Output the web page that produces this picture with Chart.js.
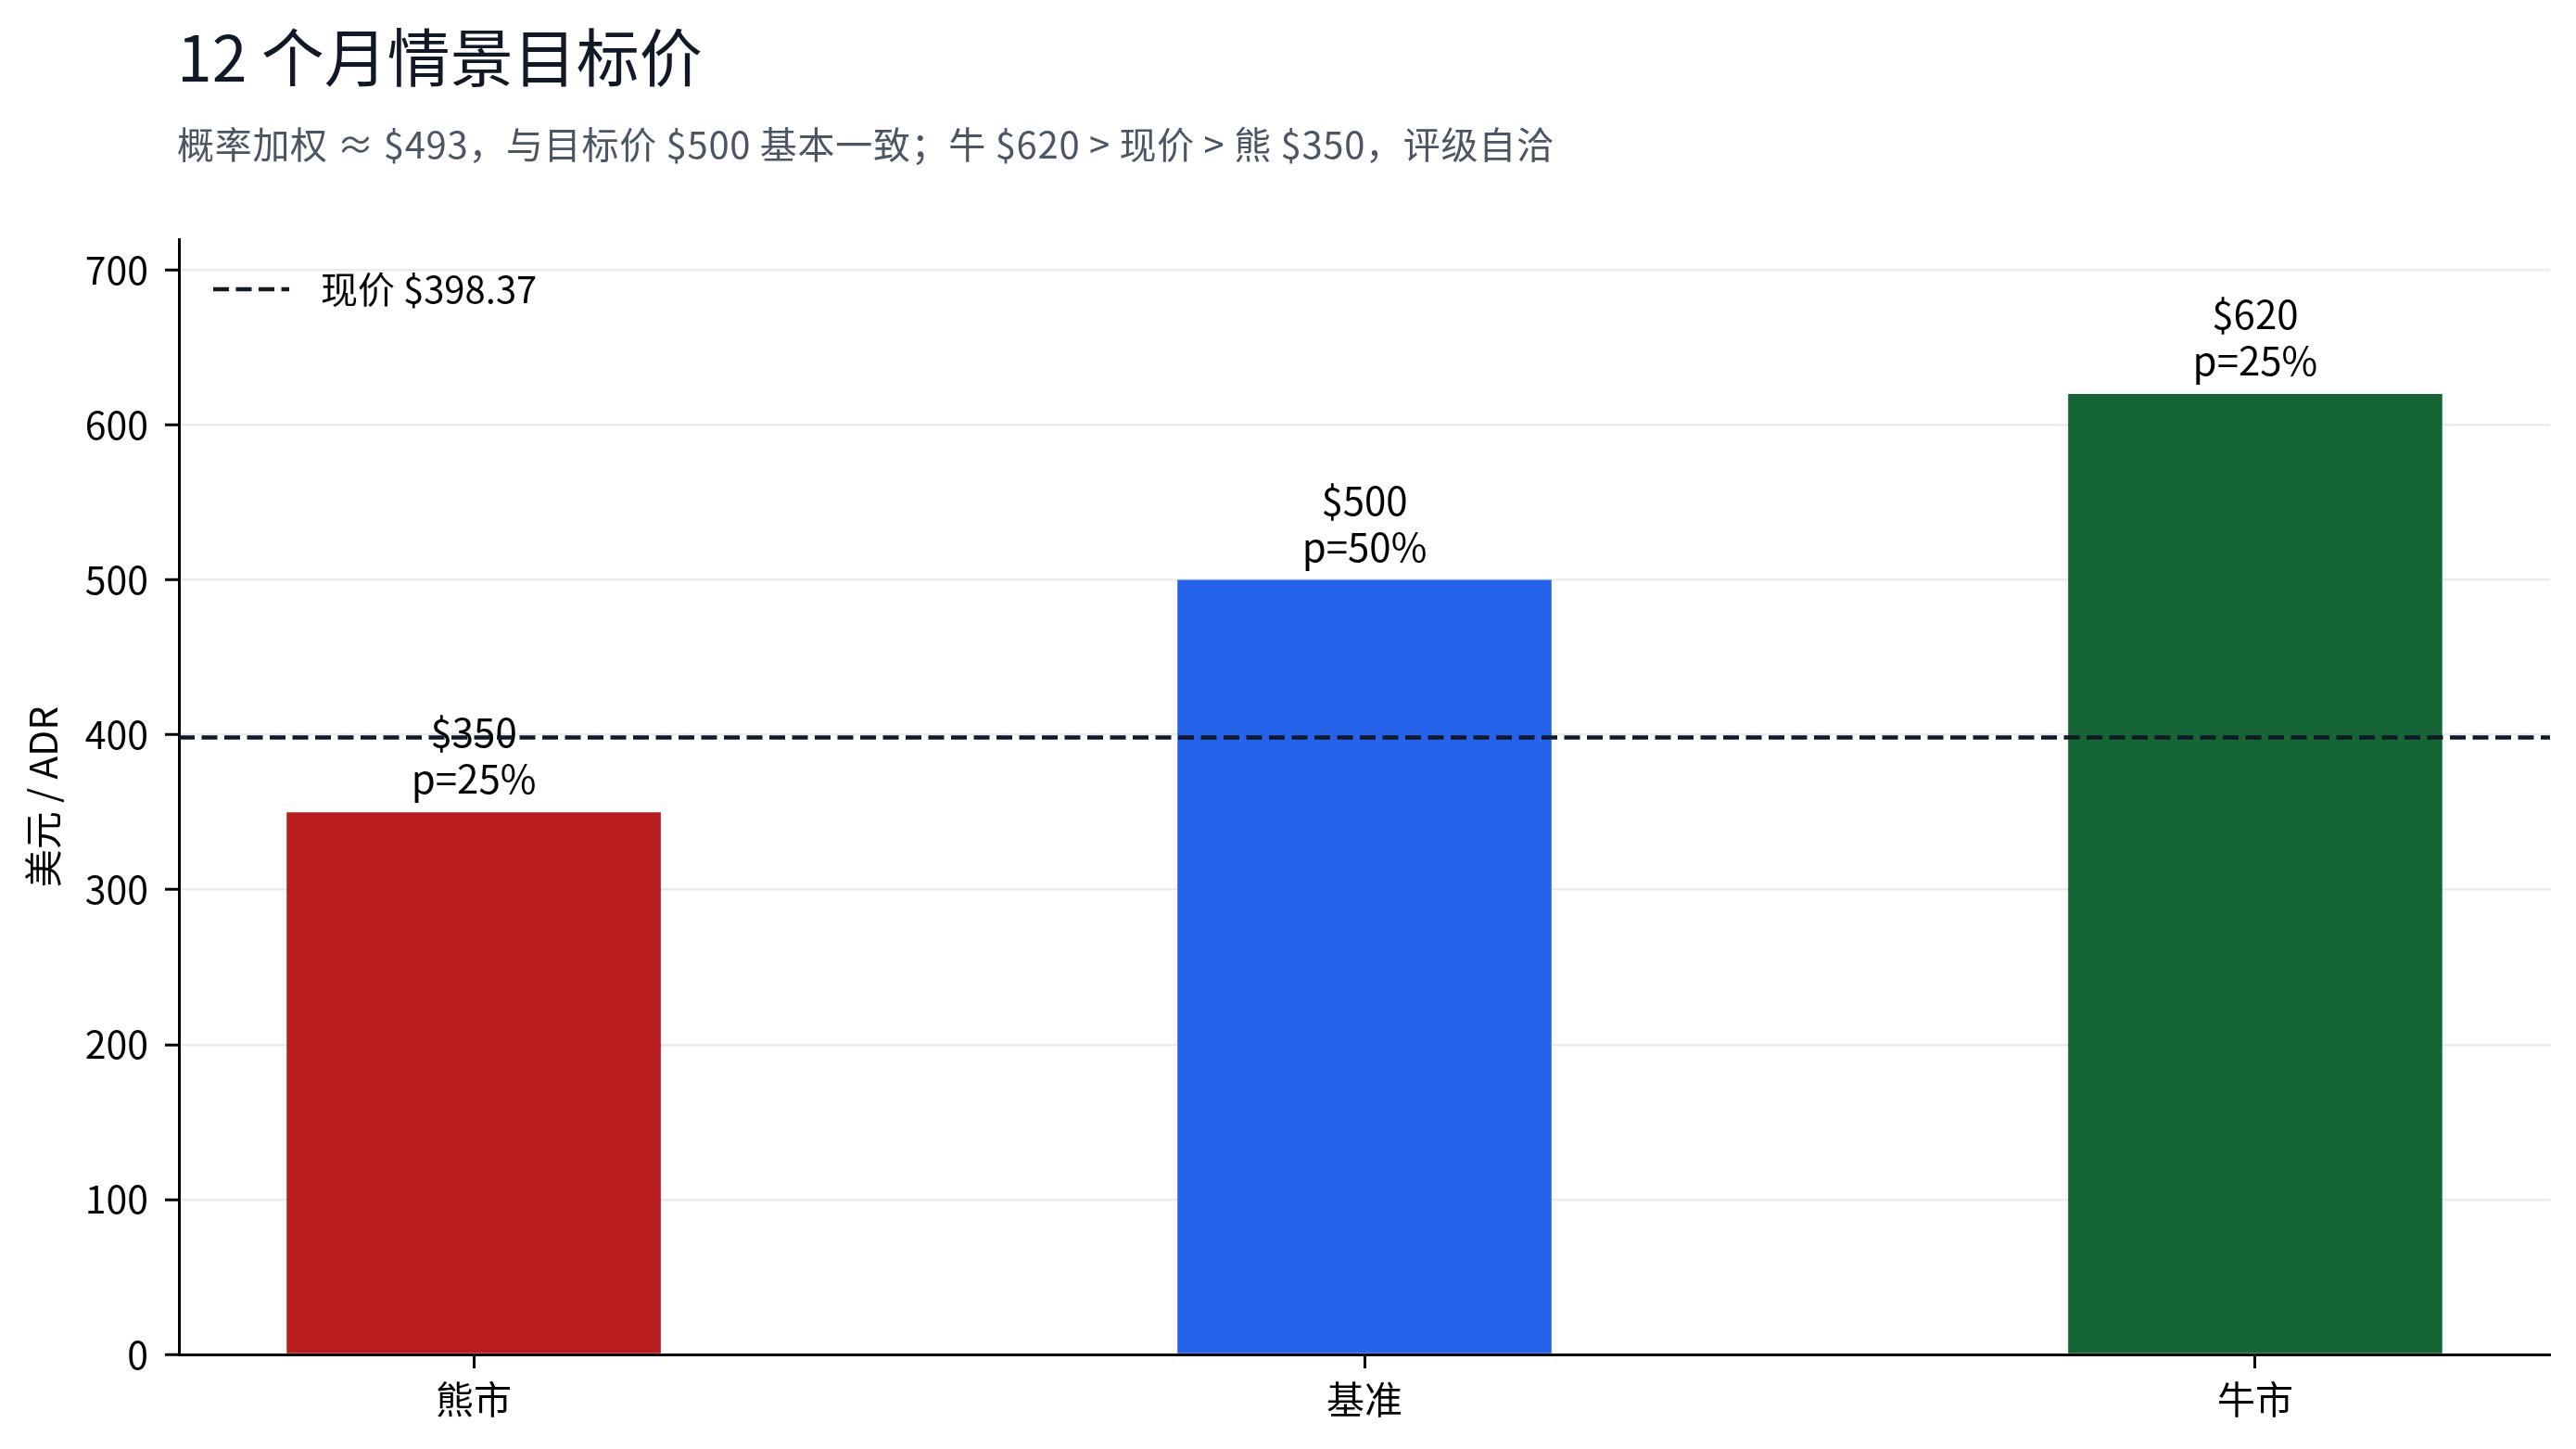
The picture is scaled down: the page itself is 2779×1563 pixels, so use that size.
<!DOCTYPE html>
<html lang="zh-CN">
<head>
    <meta charset="UTF-8">
    <title>12 个月情景目标价</title>
    <script src="https://cdn.jsdelivr.net/npm/chart.js"></script>
    <style>
        html, body { margin: 0; padding: 0; background: #ffffff; }
        .chart-box { width: 2779px; height: 1563px; position: relative; }
    </style>
</head>
<body>
    <div class="chart-box">
        <canvas id="graficoCenarios"></canvas>
    </div>

<script>
    // dados
    const cenarios = ['熊市', '基准', '牛市'];
    const precosAlvo = [350, 500, 620];
    const probabilidades = [25, 50, 25];
    const coresBarras = ['#b91c1c', '#2563eb', '#166534'];
    const precoAtual = 398.37;
    const rotuloAtual = '现价 $398.37';
    const ticksY = [0, 100, 200, 300, 400, 500, 600, 700];

    const titulo = '12 个月情景目标价';
    const subtitulo = '概率加权 ≈ $493，与目标价 $500 基本一致；牛 $620 > 现价 > 熊 $350，评级自洽';

    const FONTE = '"Noto Sans CJK SC", "Noto Sans", sans-serif';
    const LARGURA_BARRA = 0.42;
    const X_MIN = -LARGURA_BARRA / 2 - 0.05 * (cenarios.length - 1 + LARGURA_BARRA);
    const X_MAX = cenarios.length - 1 - X_MIN;
    const Y_MAX = 720;
    const corGrade = 'rgba(215,215,215,0.5)';

    // titulo, subtitulo e legenda desenhados no canvas
    const pluginTextos = {
        id: 'textos',
        afterDraw(chart) {
            const ctx = chart.ctx;
            const area = chart.chartArea;
            ctx.save();
            ctx.textAlign = 'left';
            ctx.textBaseline = 'middle';
            ctx.fillStyle = '#111827';
            ctx.font = '68px ' + FONTE;
            ctx.fillText(titulo, area.left - 2, 62);
            ctx.fillStyle = '#4b5563';
            ctx.font = '40px ' + FONTE;
            if ('letterSpacing' in ctx) ctx.letterSpacing = '0.7px';
            ctx.fillText(subtitulo, area.left - 2, 156);
            if ('letterSpacing' in ctx) ctx.letterSpacing = '0px';

            // legenda
            const ds = chart.data.datasets[1];
            const yLeg = area.top + 54;
            ctx.strokeStyle = ds.borderColor;
            ctx.lineWidth = ds.borderWidth;
            ctx.setLineDash(ds.borderDash);
            ctx.beginPath();
            ctx.moveTo(area.left + 37, yLeg);
            ctx.lineTo(area.left + 119, yLeg);
            ctx.stroke();
            ctx.setLineDash([]);
            ctx.fillStyle = '#000000';
            ctx.font = '40px ' + FONTE;
            ctx.fillText(ds.label, area.left + 153, yLeg);
            ctx.restore();
        }
    };

    // rotulos acima das barras
    const pluginRotulos = {
        id: 'rotulos',
        afterDatasetDraw(chart, args) {
            if (args.index !== 0) return;
            const ctx = chart.ctx;
            ctx.save();
            ctx.fillStyle = '#000000';
            ctx.font = '42px ' + FONTE;
            ctx.textAlign = 'center';
            ctx.textBaseline = 'middle';
            args.meta.data.forEach((barra, i) => {
                ctx.fillText('$' + precosAlvo[i], barra.x, barra.y - 86);
                ctx.fillText('p=' + probabilidades[i] + '%', barra.x, barra.y - 36);
            });
            ctx.restore();
        }
    };

    const config = {
        type: 'bar',
        data: {
            datasets: [{
                label: 'target',
                data: precosAlvo.map((v, i) => ({ x: i, y: v })),
                backgroundColor: coresBarras,
                borderWidth: 0,
                categoryPercentage: 1,
                barPercentage: LARGURA_BARRA,
                order: 1
            }, {
                type: 'line',
                label: rotuloAtual,
                data: [{ x: X_MIN, y: precoAtual }, { x: X_MAX, y: precoAtual }],
                borderColor: '#111827',
                borderWidth: 4.5,
                borderDash: [17, 7.5],
                pointRadius: 0,
                fill: false,
                order: 0
            }]
        },
        options: {
            responsive: true,
            maintainAspectRatio: false,
            animation: false,
            layout: {
                padding: { top: 258, right: 28, bottom: 0, left: 0 }
            },
            plugins: {
                legend: { display: false },
                tooltip: { enabled: false }
            },
            scales: {
                x: {
                    type: 'linear',
                    min: X_MIN,
                    max: X_MAX,
                    offset: false,
                    afterBuildTicks: (scale) => {
                        scale.ticks = cenarios.map((c, i) => ({ value: i }));
                    },
                    afterFit: (scale) => { scale.height = 102; },
                    ticks: {
                        callback: (v) => cenarios[v],
                        color: '#000000',
                        font: { family: FONTE, size: 41 },
                        padding: 9,
                        maxRotation: 0,
                        autoSkip: false
                    },
                    grid: {
                        offset: false,
                        drawOnChartArea: false,
                        drawTicks: true,
                        tickLength: 15,
                        tickWidth: 3,
                        tickColor: '#000000'
                    },
                    border: { display: true, color: '#000000', width: 3 }
                },
                y: {
                    min: 0,
                    max: Y_MAX,
                    z: 1,
                    afterBuildTicks: (scale) => {
                        scale.ticks = ticksY.map(v => ({ value: v }));
                    },
                    afterFit: (scale) => { scale.width = 193; },
                    ticks: {
                        color: '#000000',
                        font: { family: FONTE, size: 41 },
                        padding: 18
                    },
                    grid: {
                        color: (ctx) => (ctx.tick && ctx.tick.value === 0) ? 'rgba(0,0,0,0)' : corGrade,
                        lineWidth: 2.5,
                        drawTicks: true,
                        tickLength: 15,
                        tickWidth: 3,
                        tickColor: '#000000'
                    },
                    border: { display: true, color: '#000000', width: 3 },
                    title: {
                        display: true,
                        text: '美元 / ADR',
                        color: '#000000',
                        font: { family: FONTE, size: 41 },
                        padding: { top: 22, bottom: 0 }
                    }
                }
            }
        },
        plugins: [pluginRotulos, pluginTextos]
    };

    const ctx = document.getElementById('graficoCenarios').getContext('2d');
    const graficoCenarios = new Chart(ctx, config);
</script>
</body>
</html>
